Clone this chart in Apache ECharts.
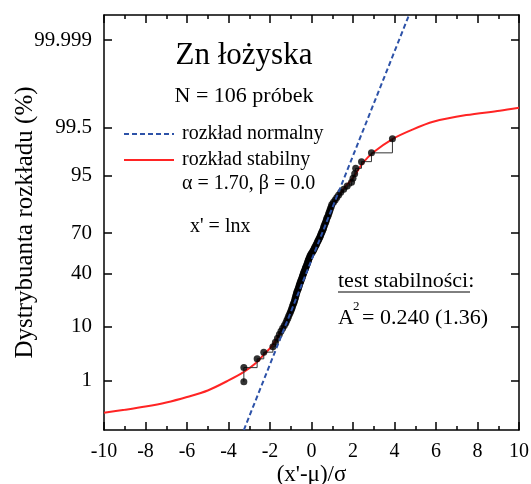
<!DOCTYPE html>
<html>
<head>
<meta charset="utf-8">
<style>
  html, body { margin: 0; padding: 0; background: #fff; }
  #chart { width: 531px; height: 484px; }
</style>
</head>
<body>
<div id="chart"></div>
<script src="https://cdn.jsdelivr.net/npm/echarts@6/dist/echarts.min.js"></script>
<script>
// probability axis: tick labels and range, in %
const yTickPct = [1, 10, 40, 70, 95, 99.5, 99.999]
const yTickLabels = ['1', '10', '40', '70', '95', '99.5', '99.999']
const yRangePct = [0.05, 99.9999]

// stable distribution fit (alpha = 1.70, beta = 0.0)
const stableX = [-10, -9, -8, -7, -6, -5, -4, -3.26, -2.62, -2.25, -1.93, -1.5, -1, -0.5, 0, 0.5, 1, 1.5, 2, 2.5, 3, 3.9, 4.89, 5.86, 7.46, 9.07, 10]
const stablePct = [0.156, 0.187, 0.228, 0.291, 0.401, 0.579, 0.99, 1.52, 2.43, 3.54, 4.69, 8.08, 16.6, 31.2, 52, 69.8, 84.6, 91.3, 94.5, 97.1, 98.2, 99.06, 99.44, 99.636, 99.755, 99.812, 99.844]

// normal distribution line (end points)
const normalX = [-3.26, 4.70]
const normalPct = [0.05, 99.9999]

// 106 samples, standardized (x'-mu)/sigma, and their cumulative %
const sampleX = [
  -3.26, -3.26, -2.62, -2.30, -1.86, -1.74, -1.64, -1.55, -1.47, -1.39,
  -1.31, -1.24, -1.19, -1.14, -1.10, -1.05, -1.01, -0.97, -0.94, -0.91,
  -0.88, -0.85, -0.82, -0.80, -0.78, -0.76, -0.74, -0.72, -0.70, -0.67,
  -0.64, -0.62, -0.60, -0.58, -0.56, -0.53, -0.51, -0.49, -0.46, -0.44,
  -0.42, -0.40, -0.38, -0.36, -0.33, -0.31, -0.29, -0.27, -0.24, -0.22,
  -0.20, -0.18, -0.16, -0.14, -0.12, -0.09, -0.07, -0.04, -0.01, 0.04,
  0.07, 0.10, 0.13, 0.15, 0.19, 0.22, 0.25, 0.28, 0.31, 0.34,
  0.37, 0.40, 0.43, 0.45, 0.48, 0.51, 0.54, 0.57, 0.59, 0.61,
  0.64, 0.67, 0.70, 0.72, 0.75, 0.79, 0.82, 0.85, 0.88, 0.91,
  0.95, 0.98, 1.06, 1.14, 1.22, 1.31, 1.41, 1.55, 1.72, 1.93,
  2.00, 2.08, 2.13, 2.41, 2.89, 3.90
]
const samplePct = [
  0.93, 1.87, 2.80, 3.74, 4.67, 5.61, 6.54, 7.48, 8.41, 9.35,
  10.28, 11.21, 12.15, 13.08, 14.02, 14.95, 15.89, 16.82, 17.76, 18.69,
  19.63, 20.56, 21.50, 22.43, 23.36, 24.30, 25.23, 26.17, 27.10, 28.04,
  28.97, 29.91, 30.84, 31.78, 32.71, 33.64, 34.58, 35.51, 36.45, 37.38,
  38.32, 39.25, 40.19, 41.12, 42.06, 42.99, 43.93, 44.86, 45.79, 46.73,
  47.66, 48.60, 49.53, 50.47, 51.40, 52.34, 53.27, 54.21, 55.14, 56.07,
  57.01, 57.94, 58.88, 59.81, 60.75, 61.68, 62.62, 63.55, 64.49, 65.42,
  66.36, 67.29, 68.22, 69.16, 70.09, 71.03, 71.96, 72.90, 73.83, 74.77,
  75.70, 76.64, 77.57, 78.50, 79.44, 80.37, 81.31, 82.24, 83.18, 84.11,
  85.05, 85.98, 86.92, 87.85, 88.79, 89.72, 90.65, 91.59, 92.52, 93.46,
  94.39, 95.33, 96.26, 97.20, 98.13, 99.07
]

// inverse normal cdf (Acklam), used as the scale of the probability axis
function probit(p) {
  const a = [-3.969683028665376e+01, 2.209460984245205e+02, -2.759285104469687e+02, 1.383577518672690e+02, -3.066479806614716e+01, 2.506628277459239e+00]
  const b = [-5.447609879822406e+01, 1.615858368580409e+02, -1.556989798598866e+02, 6.680131188771972e+01, -1.328068155288572e+01]
  const c = [-7.784894002430293e-03, -3.223964580411365e-01, -2.400758277161838e+00, -2.549732539343734e+00, 4.374664141464968e+00, 2.938163982698783e+00]
  const d = [7.784695709041462e-03, 3.224671290700398e-01, 2.445134137142996e+00, 3.754408661907416e+00]
  const pl = 0.02425
  let q, r
  if (p < pl) {
    q = Math.sqrt(-2 * Math.log(p))
    return (((((c[0] * q + c[1]) * q + c[2]) * q + c[3]) * q + c[4]) * q + c[5]) / ((((d[0] * q + d[1]) * q + d[2]) * q + d[3]) * q + 1)
  }
  if (p <= 1 - pl) {
    q = p - 0.5
    r = q * q
    return (((((a[0] * r + a[1]) * r + a[2]) * r + a[3]) * r + a[4]) * r + a[5]) * q / (((((b[0] * r + b[1]) * r + b[2]) * r + b[3]) * r + b[4]) * r + 1)
  }
  q = Math.sqrt(-2 * Math.log(1 - p))
  return -(((((c[0] * q + c[1]) * q + c[2]) * q + c[3]) * q + c[4]) * q + c[5]) / ((((d[0] * q + d[1]) * q + d[2]) * q + d[3]) * q + 1)
}
const zOf = pct => probit(pct / 100)
const pairs = (xs, ps) => xs.map((x, i) => [x, zOf(ps[i])])

const serif = "'Liberation Serif', 'DejaVu Serif', serif"
const yTickZ = yTickPct.map(zOf)

const xAxisBase = {
  type: 'value', min: -10, max: 10, interval: 2,
  axisLine: { show: true, onZero: false, lineStyle: { color: '#000', width: 1.5 } },
  axisTick: { show: true, inside: true, length: 8, lineStyle: { color: '#000', width: 1.5 } },
  minorTick: { show: true, splitNumber: 2, length: 4, lineStyle: { color: '#000', width: 1.5 } },
  splitLine: { show: false }
}
const yAxisBase = {
  type: 'value', min: zOf(yRangePct[0]), max: zOf(yRangePct[1]),
  axisLine: { show: true, onZero: false, lineStyle: { color: '#000', width: 1.5 } },
  axisTick: { show: true, inside: true, length: 8, customValues: yTickZ, lineStyle: { color: '#000', width: 1.5 } },
  splitLine: { show: false }
}

const chart = echarts.init(document.getElementById('chart'))
chart.setOption({
  animation: false,
  backgroundColor: '#fff',
  grid: { left: 104, right: 12, top: 15, bottom: 54, containLabel: false, outerBoundsMode: 'none' },
  legend: {
    data: ['rozkład normalny', 'rozkład stabilny'],
    orient: 'vertical', left: 118, top: 119,
    itemWidth: 50, itemHeight: 14, itemGap: 6,
    selectedMode: false,
    itemStyle: { opacity: 0 },
    textStyle: { fontFamily: serif, fontSize: 20, color: '#000', padding: [0, 0, 0, 3] }
  },
  xAxis: [
    Object.assign({}, xAxisBase, {
      position: 'bottom',
      name: "(x'-μ)/σ", nameLocation: 'middle', nameGap: 33, nameMoveOverlap: false,
      nameTextStyle: { fontFamily: serif, fontSize: 23, color: '#000' },
      axisLabel: { show: true, margin: 12, fontFamily: serif, fontSize: 20, color: '#000' }
    }),
    Object.assign({}, xAxisBase, { position: 'top', axisLabel: { show: false } })
  ],
  yAxis: [
    Object.assign({}, yAxisBase, {
      position: 'left',
      name: 'Dystrybuanta rozkładu (%)', nameLocation: 'middle', nameGap: 66, nameMoveOverlap: false,
      nameTextStyle: { fontFamily: serif, fontSize: 25, color: '#000' },
      axisLabel: {
        show: true, margin: 12, fontFamily: serif, fontSize: 21, color: '#000',
        customValues: yTickZ,
        formatter: function (value) {
          let best = 0
          for (let i = 0; i < yTickZ.length; i++) {
            if (Math.abs(yTickZ[i] - value) < Math.abs(yTickZ[best] - value)) best = i
          }
          return yTickLabels[best]
        }
      }
    }),
    Object.assign({}, yAxisBase, { position: 'right', axisLabel: { show: false } })
  ],
  series: [
    {
      name: 'rozkład stabilny', type: 'line', smooth: 0.3, symbol: 'none', z: 2,
      data: pairs(stableX, stablePct),
      itemStyle: { color: '#ff2424' },
      lineStyle: { color: '#ff2424', width: 2 }
    },
    {
      name: 'schody', type: 'line', step: 'end', symbol: 'none', z: 3,
      data: pairs(sampleX, samplePct),
      lineStyle: { color: '#333', width: 1 }
    },
    {
      name: 'próbki', type: 'scatter', symbolSize: 7, z: 4,
      data: pairs(sampleX, samplePct),
      itemStyle: { color: '#000' }
    },
    {
      name: 'rozkład normalny', type: 'line', symbol: 'none', z: 5,
      data: pairs(normalX, normalPct),
      itemStyle: { color: '#2d52a8' },
      lineStyle: { color: '#2d52a8', width: 2, type: [5, 3] }
    }
  ],
  graphic: [
    { type: 'text', x: 244, y: 56, style: { text: 'Zn łożyska', font: '31px ' + serif, fill: '#000', align: 'center', verticalAlign: 'middle' } },
    { type: 'text', x: 244, y: 96, style: { text: 'N = 106 próbek', font: '22px ' + serif, fill: '#000', align: 'center', verticalAlign: 'middle' } },
    { type: 'text', x: 182, y: 184, style: { text: 'α = 1.70, β = 0.0', font: '20px ' + serif, fill: '#000', align: 'left', verticalAlign: 'middle' } },
    { type: 'text', x: 190, y: 227, style: { text: "x' = lnx", font: '20px ' + serif, fill: '#000', align: 'left', verticalAlign: 'middle' } },
    { type: 'text', x: 338, y: 281, style: { text: 'test stabilności:', font: '22px ' + serif, fill: '#000', align: 'left', verticalAlign: 'middle' } },
    { type: 'line', shape: { x1: 338, y1: 292, x2: 470, y2: 292 }, style: { stroke: '#000', lineWidth: 1 } },
    { type: 'text', x: 338, y: 318, style: { text: 'A', font: '22px ' + serif, fill: '#000', align: 'left', verticalAlign: 'middle' } },
    { type: 'text', x: 353, y: 307, style: { text: '2', font: '13px ' + serif, fill: '#000', align: 'left', verticalAlign: 'middle' } },
    { type: 'text', x: 362, y: 318, style: { text: '= 0.240 (1.36)', font: '22px ' + serif, fill: '#000', align: 'left', verticalAlign: 'middle' } }
  ]
})
</script>
</body>
</html>
